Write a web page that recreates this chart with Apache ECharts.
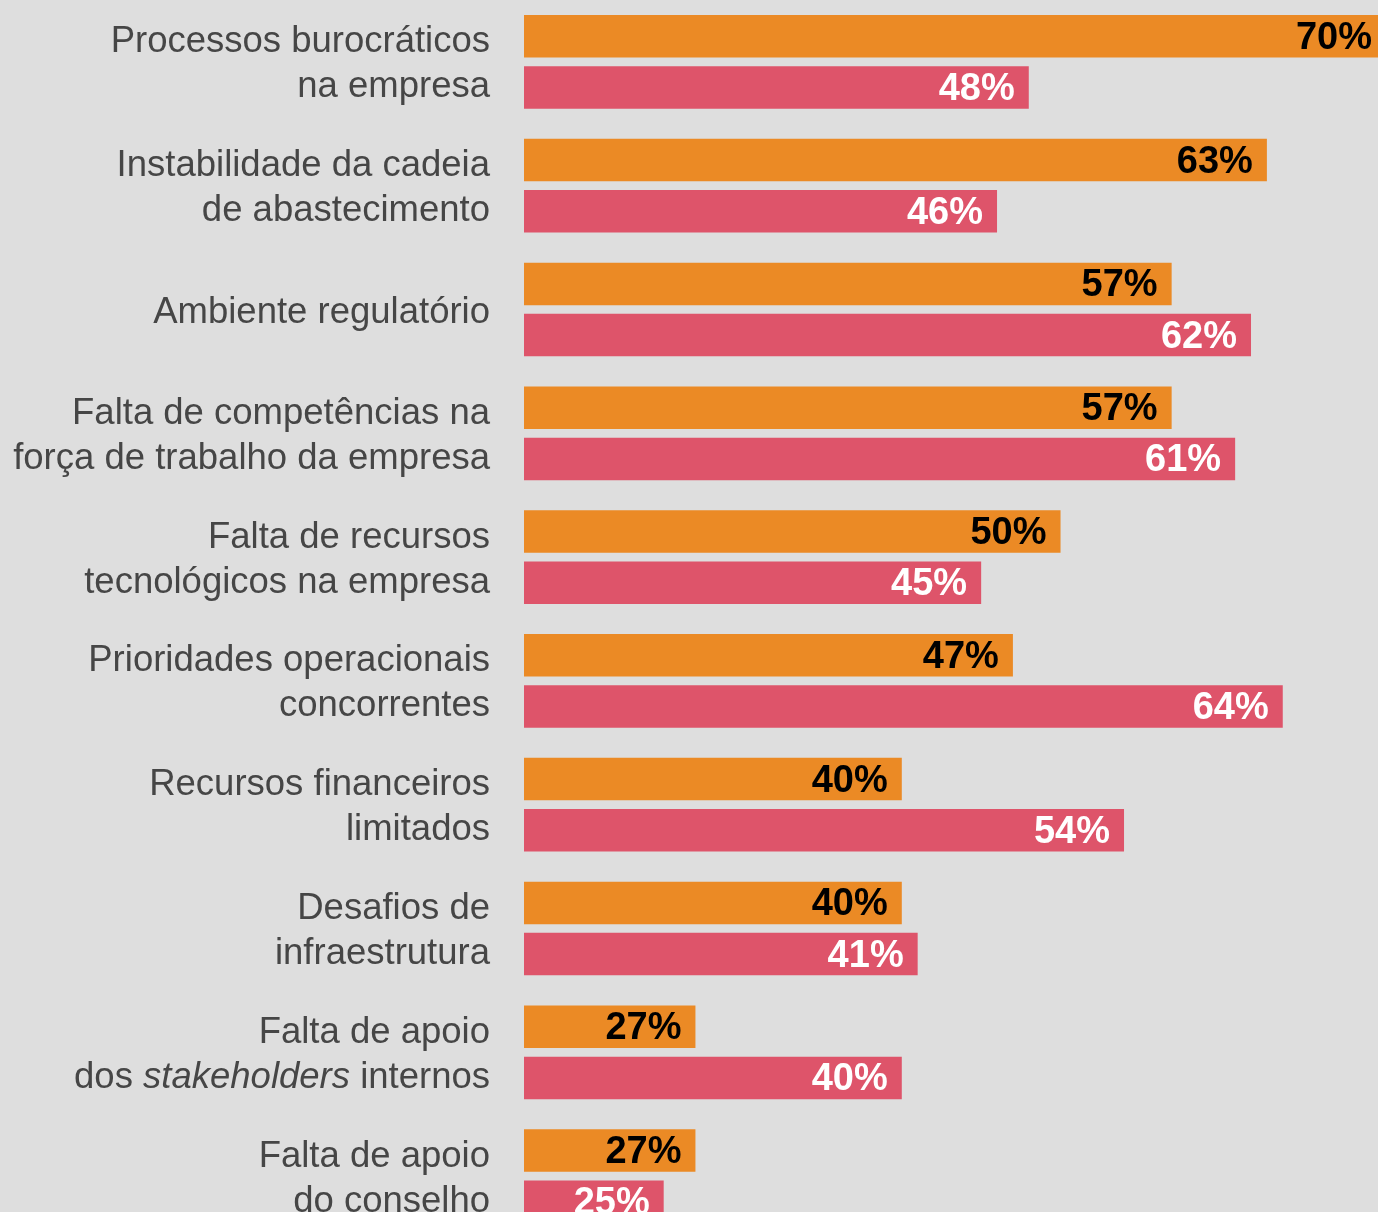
<!DOCTYPE html>
<html>
<head>
<meta charset="utf-8">
<title>Desafios</title>
<script src="https://cdn.jsdelivr.net/npm/echarts@6/dist/echarts.min.js"></script>
<style>
  html, body { margin: 0; padding: 0; background: #dedede; }
  #chart { width: 1378px; height: 1212px; }
</style>
</head>
<body>
<div id="chart"></div>
<script>
// Categories (top to bottom); {i|...} marks italic words
const categories = [
  'Processos burocráticos\nna empresa',
  'Instabilidade da cadeia\nde abastecimento',
  'Ambiente regulatório',
  'Falta de competências na\nforça de trabalho da empresa',
  'Falta de recursos\ntecnológicos na empresa',
  'Prioridades operacionais\nconcorrentes',
  'Recursos financeiros\nlimitados',
  'Desafios de\ninfraestrutura',
  'Falta de apoio\ndos {i|stakeholders} internos',
  'Falta de apoio\ndo conselho'
];

// Percentages for the two respondent groups
const seriesOrange = [70, 63, 57, 57, 50, 47, 40, 40, 27, 27];
const seriesRed    = [48, 46, 62, 61, 45, 64, 54, 41, 40, 25];

const ORANGE = '#eb8a25';
const RED = '#de546a';
const TEXT = '#464646';
const FONT = "'Liberation Sans', Arial, Helvetica, sans-serif";

const axisMin = 16.2;
const axisMax = 70;

// Labels sit 14px inside the bar end; the bar reaching the right edge gets a tighter fit
function toData(values) {
  return values.map(v => v >= axisMax ? { value: v, label: { distance: 6 } } : v);
}

const chart = echarts.init(document.getElementById('chart'), null, { renderer: 'canvas' });

const labelStyle = (color) => ({
  show: true,
  position: 'insideRight',
  distance: 14,
  offset: [0, 2],
  formatter: '{c}%',
  color: color,
  fontFamily: FONT,
  fontWeight: 'bold',
  fontSize: 38
});

chart.setOption({
  backgroundColor: '#dedede',
  animation: false,
  grid: {
    left: 524,
    top: 0,
    width: 854,
    height: 1238,
    containLabel: false,
    outerBoundsMode: 'none'
  },
  xAxis: {
    type: 'value',
    min: axisMin,
    max: axisMax,
    show: false
  },
  yAxis: {
    type: 'category',
    inverse: true,
    data: categories,
    axisLine: { show: false },
    axisTick: { show: false },
    splitLine: { show: false },
    axisLabel: {
      interval: 0,
      margin: 34,
      color: TEXT,
      fontFamily: FONT,
      fontSize: 36.5,
      lineHeight: 45,
      align: 'right',
      padding: [6, 0, 0, 0],
      rich: {
        i: {
          fontStyle: 'italic',
          color: TEXT,
          fontFamily: FONT,
          fontSize: 36.5,
          lineHeight: 45
        }
      }
    }
  },
  series: [
    {
      type: 'bar',
      data: toData(seriesOrange),
      barWidth: 42.5,
      barGap: '20.5%',
      itemStyle: { color: ORANGE },
      label: labelStyle('#000000'),
      silent: true
    },
    {
      type: 'bar',
      data: toData(seriesRed),
      barWidth: 42.5,
      barGap: '20.5%',
      itemStyle: { color: RED },
      label: labelStyle('#ffffff'),
      silent: true
    }
  ]
});
</script>
</body>
</html>
